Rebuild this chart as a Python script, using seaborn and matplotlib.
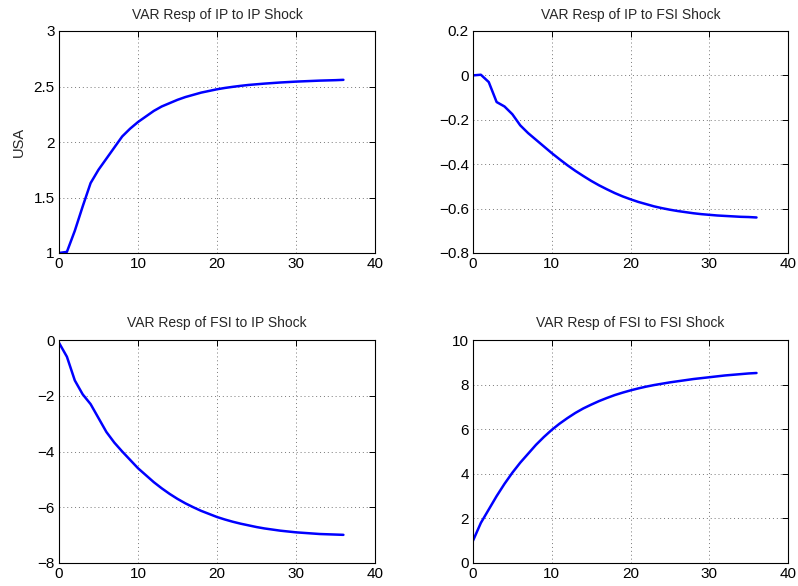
import numpy as np
import pandas as pd
import matplotlib
matplotlib.use("Agg")
import matplotlib.pyplot as plt
import seaborn as sns

horizon = list(range(37))

ip_to_ip = [1.0, 1.01, 1.2, 1.42, 1.63, 1.75, 1.85, 1.95, 2.05, 2.12, 2.18, 2.23, 2.28,
            2.32, 2.35, 2.38, 2.405, 2.425, 2.445, 2.46, 2.475, 2.487, 2.497, 2.506,
            2.514, 2.52, 2.526, 2.531, 2.536, 2.54, 2.544, 2.547, 2.55, 2.553, 2.555,
            2.557, 2.56]
ip_to_fsi = [0.0, 0.003, -0.03, -0.12, -0.14, -0.175, -0.225, -0.26, -0.29, -0.32, -0.35,
             -0.378, -0.405, -0.43, -0.453, -0.475, -0.495, -0.513, -0.53, -0.545, -0.558,
             -0.57, -0.58, -0.59, -0.598, -0.605, -0.611, -0.616, -0.621, -0.625, -0.628,
             -0.631, -0.633, -0.635, -0.637, -0.638, -0.64]
fsi_to_ip = [-0.1, -0.6, -1.45, -1.95, -2.3, -2.8, -3.3, -3.68, -4.0, -4.3, -4.6, -4.85,
             -5.1, -5.32, -5.52, -5.7, -5.86, -6.0, -6.13, -6.24, -6.35, -6.44, -6.52,
             -6.59, -6.65, -6.71, -6.76, -6.8, -6.84, -6.87, -6.9, -6.92, -6.94, -6.96,
             -6.97, -6.98, -6.99]
fsi_to_fsi = [1.0, 1.8, 2.4, 3.0, 3.55, 4.05, 4.5, 4.9, 5.3, 5.65, 5.97, 6.25, 6.5, 6.73,
              6.93, 7.1, 7.26, 7.4, 7.53, 7.64, 7.74, 7.83, 7.91, 7.98, 8.04, 8.1, 8.15,
              8.2, 8.25, 8.29, 8.33, 8.37, 8.41, 8.44, 8.47, 8.5, 8.52]

titles = ["VAR Resp of IP to IP Shock", "VAR Resp of IP to FSI Shock",
          "VAR Resp of FSI to IP Shock", "VAR Resp of FSI to FSI Shock"]
series = [ip_to_ip, ip_to_fsi, fsi_to_ip, fsi_to_fsi]
ylims = [(1, 3), (-0.8, 0.2), (-8, 0), (0, 10)]
yticks = [[1, 1.5, 2, 2.5, 3], [-0.8, -0.6, -0.4, -0.2, 0, 0.2],
          [-8, -6, -4, -2, 0], [0, 2, 4, 6, 8, 10]]
yticklabels = [["1", "1.5", "2", "2.5", "3"],
               ["\u22120.8", "\u22120.6", "\u22120.4", "\u22120.2", "0", "0.2"],
               ["\u22128", "\u22126", "\u22124", "\u22122", "0"],
               ["0", "2", "4", "6", "8", "10"]]
xticks = [0, 10, 20, 30, 40]
ylabel_usa = "USA"

sns.set_style("white")
plt.rcParams['font.family'] = ['Liberation Sans', 'DejaVu Sans']

fig = plt.figure(figsize=(7.98, 5.86), dpi=100)
W, H = 798, 586
boxes = [(59, 31, 375, 253), (473, 31, 788, 253), (59, 340, 375, 563), (473, 340, 788, 563)]

for i, (l, t, r, b) in enumerate(boxes):
    ax = fig.add_axes([l / W, 1 - b / H, (r - l) / W, (b - t) / H])
    df = pd.DataFrame({"h": horizon, "v": series[i]})
    sns.lineplot(data=df, x="h", y="v", ax=ax, color="#0000ff", linewidth=1.8)
    ax.set_xlim(0, 40)
    ax.set_ylim(*ylims[i])
    ax.set_xticks(xticks)
    ax.set_xticklabels([str(x) for x in xticks])
    ax.set_yticks(yticks[i])
    ax.set_yticklabels(yticklabels[i])
    ax.set_xlabel("")
    ax.set_ylabel(ylabel_usa if i == 0 else "", fontsize=10.5, labelpad=6)
    ax.set_title(titles[i], fontsize=10, pad=9)
    ax.grid(True, linestyle=(0, (1, 3)), color="#777777", linewidth=0.7)
    ax.tick_params(direction="in", top=True, right=True, length=4, width=0.7,
                   labelsize=11, pad=3, colors="black")
    for s in ax.spines.values():
        s.set_color("black")
        s.set_linewidth(0.8)

fig.savefig("out.png", dpi=100, facecolor="white")
